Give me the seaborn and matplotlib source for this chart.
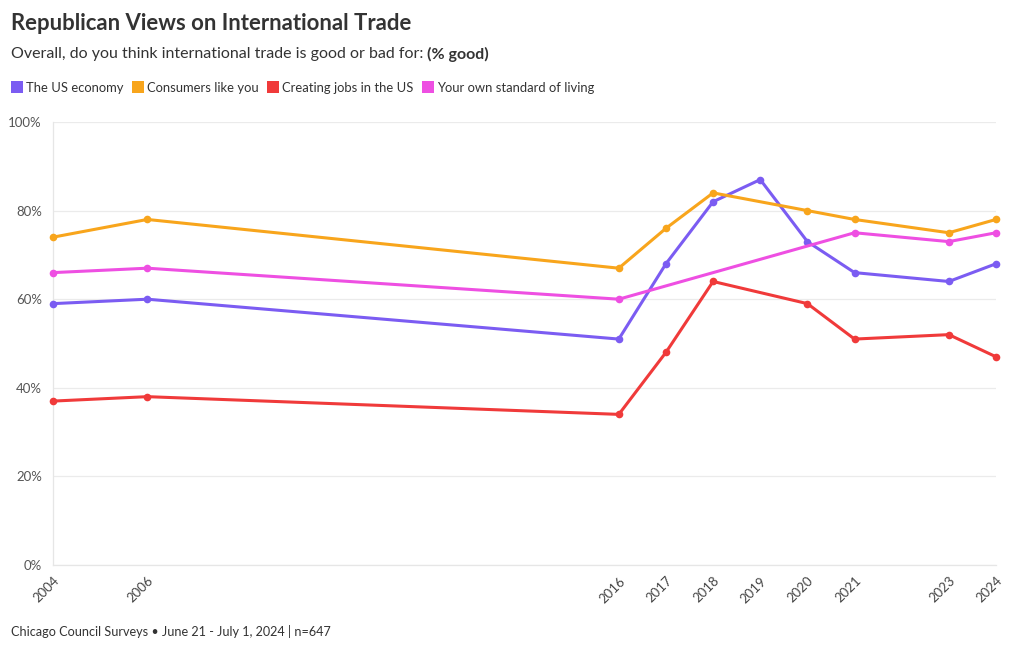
import numpy as np
import pandas as pd
import matplotlib
matplotlib.use("Agg")
import matplotlib.pyplot as plt
import seaborn as sns
from matplotlib.lines import Line2D
from matplotlib.ticker import FuncFormatter

# data (% good), None = no survey point
years = [2004, 2006, 2016, 2017, 2018, 2019, 2020, 2021, 2023, 2024]
us_economy = [59, 60, 51, 68, 82, 87, 73, 66, 64, 68]
consumers = [74, 78, 67, 76, 84, None, 80, 78, 75, 78]
creating_jobs = [37, 38, 34, 48, 64, None, 59, 51, 52, 47]
standard_of_living = [66, 67, 60, None, None, None, None, 75, 73, 75]

series_names = ["The US economy", "Consumers like you", "Creating jobs in the US",
                "Your own standard of living"]
series_colors = ["#7B5CF2", "#F8A51C", "#F03A3A", "#EE4FE2"]

rows = []
for name, vals in zip(series_names, [us_economy, consumers, creating_jobs, standard_of_living]):
    for yr, v in zip(years, vals):
        if v is not None:
            rows.append({"year": yr, "pct": v, "series": name})
df = pd.DataFrame(rows)

sns.set_style("white")
plt.rcParams["font.family"] = ["Lato", "DejaVu Sans"]

fig = plt.figure(figsize=(10.2, 6.5), dpi=100)
ax = fig.add_axes([53 / 1020, 1 - 565 / 650, (996 - 53) / 1020, (565 - 122) / 650])

sns.lineplot(data=df, x="year", y="pct", hue="series", hue_order=series_names,
             palette=series_colors, marker="o", markersize=5.5, markeredgewidth=0,
             linewidth=2.2, legend=False, ax=ax, zorder=3)

ax.set_xlim(2004, 2024)
ax.set_ylim(0, 100)
ax.set_yticks([0, 20, 40, 60, 80, 100])
ax.yaxis.set_major_formatter(FuncFormatter(lambda v, _: f"{int(v)}%"))
ax.set_xticks(years)
ax.set_xticklabels([str(y) for y in years], rotation=45, ha="right",
                   rotation_mode="anchor", fontsize=9.5, color="#444444")
ax.tick_params(axis="y", labelsize=9.5, labelcolor="#555555", length=0, pad=8)
ax.tick_params(axis="x", length=4, color="#e6e6e6", pad=3)
ax.grid(axis="y", color="#ebebeb", linewidth=0.9)
ax.set_axisbelow(True)
ax.set_xlabel("")
ax.set_ylabel("")
for side in ["top", "right"]:
    ax.spines[side].set_visible(False)
ax.spines["left"].set_color("#e6e6e6")
ax.spines["bottom"].set_color("#e6e6e6")
ax.spines["left"].set_linewidth(0.9)
ax.spines["bottom"].set_linewidth(0.9)
for ln in ax.lines:
    ln.set_clip_on(False)

fig.text(11 / 1020, 1 - 24 / 650, "Republican Views on International Trade",
         fontsize=15.9, fontweight="bold", color="#333333", va="center", ha="left")
sub = fig.text(11 / 1020, 1 - 54 / 650, "Overall, do you think international trade is good or bad for: ",
               fontsize=11.5, color="#333333", va="center", ha="left")
fig.canvas.draw()
bb = sub.get_window_extent()
fig.text(bb.x1 / 1020, 1 - 54 / 650, "(% good)", fontsize=11.5, fontweight="bold",
         color="#333333", va="center", ha="left")

handles = [Line2D([], [], linestyle="none", marker="s", markersize=9, color=c, markeredgewidth=0)
           for c in series_colors]
fig.legend(handles, series_names, loc="center left", bbox_to_anchor=(5 / 1020, 1 - 88 / 650),
           ncol=4, frameon=False, fontsize=9.4, handletextpad=0.2, columnspacing=0.6,
           handlelength=1.0, borderaxespad=0, labelcolor="#333333")

fig.text(11 / 1020, 1 - 632 / 650, "Chicago Council Surveys \u2022 June 21 - July 1, 2024 | n=647",
         fontsize=9.1, color="#333333", va="center", ha="left")

fig.savefig("out.png", dpi=100)
plt.close(fig)
